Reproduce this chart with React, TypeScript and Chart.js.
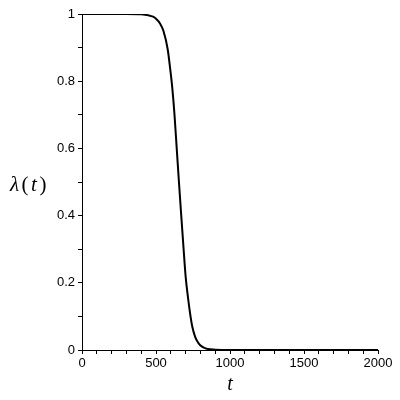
import React, { useEffect, useRef } from "react";
import { Chart, registerables } from "chart.js";

Chart.register(...registerables);

const tValues = [0, 100, 200, 300, 400, 450, 480, 500, 527, 550, 579, 595, 610, 625, 640, 655, 669, 685, 700, 715, 730, 745, 764, 780, 797, 820, 850, 900, 1000, 1500, 2000];
const lambdaValues = [1, 1, 1, 1, 0.999, 0.996, 0.992, 0.986, 0.972, 0.95, 0.895, 0.84, 0.78, 0.7, 0.6, 0.5, 0.41, 0.31, 0.22, 0.16, 0.11, 0.07, 0.04, 0.025, 0.015, 0.008, 0.003, 0.001, 0, 0, 0];
const xMajorTicks = [0, 500, 1000, 1500, 2000];
const yMajorLabels = ["0", "0.2", "0.4", "0.6", "0.8", "1"];
const xTitle = "t";
const yTitleParts = [
  { text: "λ", italic: true },
  { text: "(", italic: false },
  { text: "t", italic: true },
  { text: ")", italic: false },
];

const tickFont = { family: "'Liberation Sans', Arial, sans-serif", size: 13 };

const titlePlugin = {
  id: "axisTitles",
  afterDraw(chart: any) {
    const ctx = chart.ctx;
    const area = chart.chartArea;
    ctx.save();
    ctx.fillStyle = "#000";
    ctx.font = "italic 20px 'Liberation Serif', 'DejaVu Serif', serif";
    ctx.textAlign = "center";
    ctx.textBaseline = "alphabetic";
    ctx.fillText(xTitle, (area.left + area.right) / 2, area.bottom + 40);
    let x = 10;
    const y = (area.top + area.bottom) / 2 + 9;
    ctx.textAlign = "left";
    for (const p of yTitleParts) {
      ctx.font = (p.italic ? "italic " : "") + "21px 'Liberation Serif', 'DejaVu Serif', serif";
      ctx.fillText(p.text, x, y);
      x += ctx.measureText(p.text).width + 2.5;
    }
    ctx.restore();
  },
};

export default function App() {
  const ref = useRef<HTMLCanvasElement | null>(null);
  useEffect(() => {
    if (!ref.current) return;
    const chart = new Chart(ref.current, {
      type: "line",
      data: {
        datasets: [
          {
            data: tValues.map((t, i) => ({ x: t, y: lambdaValues[i] })),
            borderColor: "#000",
            borderWidth: 2,
            pointRadius: 0,
            cubicInterpolationMode: "monotone",
            fill: false,
          },
        ],
      },
      options: {
        animation: false,
        responsive: false,
        maintainAspectRatio: false,
        layout: { padding: { top: 14, right: 22, left: 0, bottom: 0 } },
        plugins: { legend: { display: false }, tooltip: { enabled: false } },
        scales: {
          x: {
            type: "linear",
            min: 0,
            max: 2000,
            afterFit: (s: any) => { s.height = 50; },
            border: { display: true, color: "#000", width: 1 },
            grid: { drawOnChartArea: false, drawTicks: true, tickLength: 4, color: "#000" },
            ticks: {
              stepSize: 100,
              autoSkip: false,
              maxRotation: 0,
              color: "#000",
              font: tickFont,
              padding: 2,
              callback: (v: any) => (xMajorTicks.includes(Number(v)) ? String(v) : ""),
            },
          },
          y: {
            type: "linear",
            min: 0,
            max: 1,
            afterFit: (s: any) => { s.width = 82; },
            border: { display: true, color: "#000", width: 1 },
            grid: { drawOnChartArea: false, drawTicks: true, tickLength: 4, color: "#000" },
            ticks: {
              stepSize: 0.1,
              autoSkip: false,
              color: "#000",
              font: tickFont,
              padding: 3,
              callback: (v: any) => {
                const k = Math.round(Number(v) * 10);
                return k % 2 === 0 ? yMajorLabels[k / 2] : "";
              },
            },
          },
        },
      },
      plugins: [titlePlugin],
    } as any);
    return () => chart.destroy();
  }, []);
  return (
    <div style={{ position: "fixed", left: 0, top: 0, width: 400, height: 400, background: "#fff" }}>
      <canvas ref={ref} width={400} height={400} style={{ width: 400, height: 400 }} />
    </div>
  );
}
